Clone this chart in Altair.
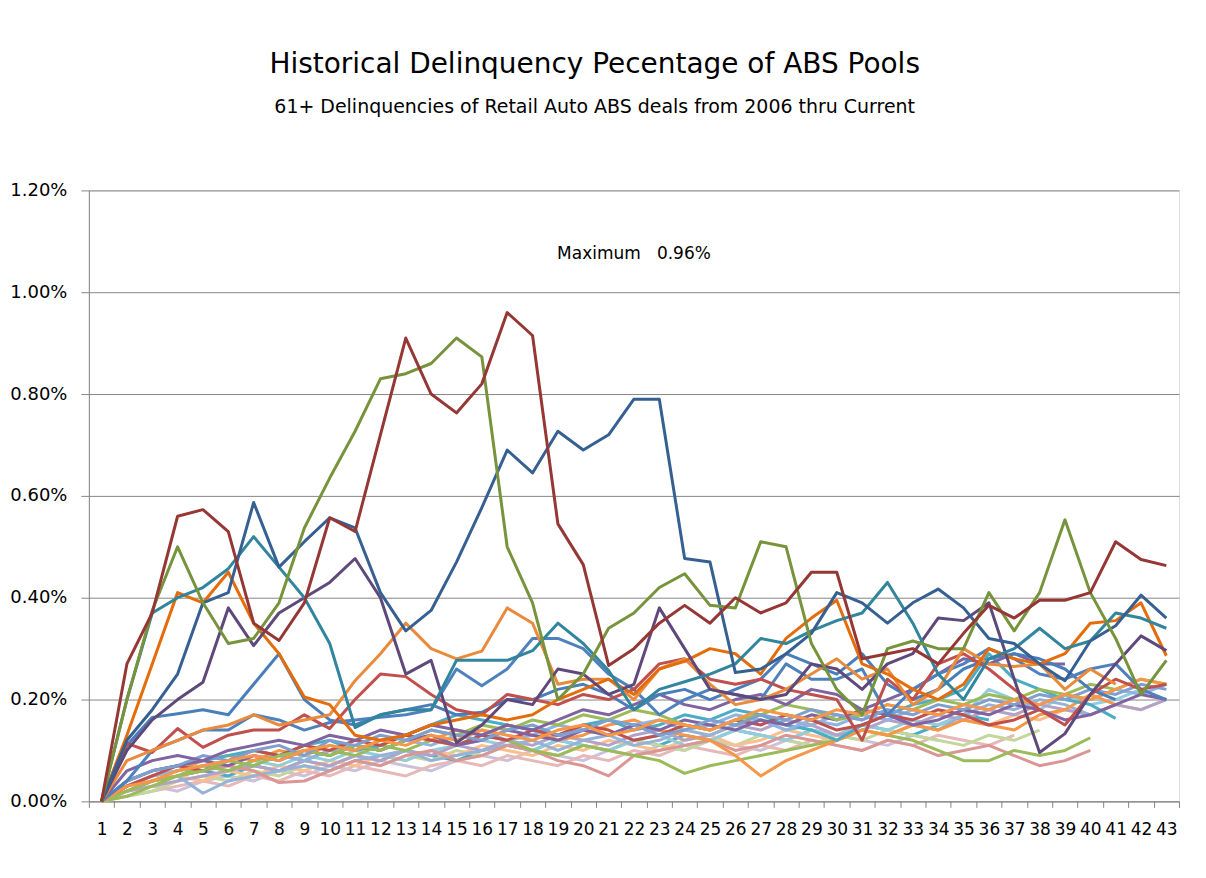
import altair as alt
import pandas as pd

# ---------------- data (values in percent) ----------------
periods = list(range(1, 44))

# lower bundle (lighter series, drawn first)
s_vl = [0,.02,.03,.02,.04,.05,.04,.06,.05,.07,.06,.08,.07,.06,.08,.09,.08,.10,.09,.08,.10,.09,.11,.10,.12,.11,.10,.12,.11,.13,.12,.11,.13,.12]
s_pk = [0,.01,.02,.03,.04,.03,.05,.04,.06,.05,.07,.06,.05,.07,.08,.07,.09,.08,.07,.09,.08,.10,.09,.11,.10,.09,.11,.10,.12,.11,.10,.12,.11,.13,.12,.11,.13]
s_aq2 = [0,.02,.04,.05,.06,.05,.07,.06,.08,.07,.09,.08,.10,.09,.08,.10,.11,.10,.12,.11,.10,.12,.11,.13,.12,.14,.13,.12,.14,.13,.15,.14,.13,.15,.17,.16]
s_lg2 = [0,.01,.02,.04,.05,.04,.06,.05,.07,.06,.08,.07,.09,.08,.10,.09,.11,.10,.09,.11,.10,.12,.11,.10,.12,.11,.13,.12,.11,.13,.12,.14,.13,.12,.11,.13,.12,.14]
s_lo = [0,.02,.04,.05,.04,.06,.05,.07,.06,.08,.07,.09,.08,.10,.09,.11,.10,.09,.11,.10,.12,.11,.10,.12,.13,.11,.12,.14,.13,.12,.14,.13,.15,.14,.16,.15,.17,.16,.18,.17,.19,.18,.20]
s_la = [0,.03,.05,.06,.07,.06,.08,.07,.09,.08,.10,.09,.08,.10,.11,.12,.11,.10,.12,.11,.10,.12,.13,.11,.12,.14,.13,.12,.14,.13,.15,.14,.16,.15,.17,.22,.20,.18,.21,.19,.20,.22]
s_lv = [0,.02,.03,.04,.05,.06,.07,.06,.08,.07,.09,.08,.10,.09,.11,.10,.12,.11,.13,.12,.11,.13,.14,.12,.13,.15,.14,.16,.15,.13,.14,.16,.15,.17,.16,.18,.17,.19,.18,.17,.19,.18,.20]
s_lb = [0,.03,.04,.05,.016,.04,.05,.06,.07,.06,.08,.09,.10,.08,.09,.10,.11,.12,.10,.12,.13,.11,.12,.14,.13,.15,.16,.14,.15,.17,.16,.18,.15,.14,.17,.19,.18,.20,.19,.17]
s_ma = [0,.02,.04,.05,.06,.07,.06,.037,.04,.06,.08,.07,.09,.10,.08,.09,.11,.10,.08,.07,.05,.09,.10,.11,.12,.10,.11,.13,.12,.11,.10,.12,.11,.09,.10,.11,.09,.07,.08,.10]
s_lg = [0,.01,.03,.05,.07,.06,.08,.09,.08,.10,.09,.11,.10,.12,.11,.13,.12,.10,.09,.11,.10,.09,.08,.055,.07,.08,.09,.10,.11,.12,.14,.13,.12,.10,.08,.08,.10,.09,.10,.125]
s_ol = [0,.03,.05,.06,.08,.09,.08,.10,.09,.11,.10,.12,.13,.12,.14,.13,.15,.14,.12,.13,.15,.16,.14,.13,.12,.09,.05,.08,.10,.12,.14,.13,.15,.14,.16,.15,.14,.17,.18,.21,.19]
s_aq = [0,.04,.06,.07,.08,.09,.10,.09,.11,.12,.10,.11,.13,.15,.17,.16,.15,.14,.13,.15,.16,.14,.15,.17,.16,.18,.17,.15,.14,.12,.15,.17,.19,.20,.22,.29,.24,.22,.20,.19,.163]
s_lb2 = [0,.03,.05,.06,.07,.08,.07,.09,.08,.10,.11,.10,.12,.11,.13,.14,.12,.13,.15,.14,.13,.15,.16,.14,.15,.17,.16,.14,.16,.15,.17,.16,.18,.17,.19,.18,.20,.19,.21,.20,.22,.21,.23]
s_rd2 = [0,.03,.05,.07,.06,.08,.10,.09,.11,.10,.12,.11,.13,.12,.11,.13,.12,.14,.13,.15,.14,.12,.13,.15,.14,.16,.15,.17,.16,.14,.15,.17,.16,.18,.17,.15,.16,.18]
s_pu2 = [0,.04,.06,.07,.08,.07,.09,.08,.10,.09,.11,.10,.12,.13,.11,.12,.14,.13,.12,.14,.13,.15,.14,.16,.15,.14,.16,.15,.17,.16,.18,.17,.15,.16,.18,.17,.19,.18,.16,.17,.19,.21,.20]
s_gr2 = [0,.02,.04,.05,.06,.08,.07,.09,.10,.09,.11,.10,.12,.14,.13,.15,.14,.16,.15,.17,.16,.18,.17,.15,.14,.16,.17,.19,.18,.16,.17,.19,.18,.20,.19,.21,.20,.22,.21,.23,.22,.24,.23]
s_bl3 = [0,.04,.06,.07,.09,.08,.10,.11,.09,.12,.11,.13,.12,.14,.13,.12,.14,.15,.13,.14,.16,.15,.13,.14,.16,.15,.17,.16,.18,.17,.16,.18,.17,.19,.18,.20,.19,.21,.20,.22,.21,.23,.22]
s_or3 = [0,.03,.04,.06,.07,.08,.09,.08,.10,.11,.10,.12,.11,.13,.12,.14,.13,.12,.14,.15,.13,.14,.16,.15,.14,.16,.18,.17,.16,.18,.17,.19,.18,.17,.19,.18,.20,.19,.21,.20,.22,.24,.23]

# medium series
s_p2 = [0,.06,.08,.09,.08,.10,.11,.12,.11,.13,.12,.14,.13,.15,.14,.13,.15,.14,.16,.18,.17,.19,.21,.19,.18,.20,.21,.19,.22,.21,.18,.20,.22,.25,.28,.27,.29,.27,.27]
s_b3 = [0,.11,.165,.172,.18,.17,.23,.29,.20,.16,.15,.17,.18,.19,.17,.175,.20,.20,.22,.23,.21,.18,.21,.22,.20,.22,.24,.29,.27,.25,.29,.23,.20,.22,.26,.28,.29,.28,.26,.22,.20]
s_b2 = [0,.04,.10,.12,.14,.14,.17,.16,.14,.155,.16,.165,.17,.18,.26,.227,.26,.32,.32,.30,.25,.22,.17,.20,.22,.21,.20,.27,.24,.24,.26,.17,.22,.25,.27,.30,.28,.25,.24,.26,.27,.22,.20]
s_r2 = [0,.114,.096,.143,.106,.13,.14,.14,.17,.143,.20,.25,.245,.21,.18,.17,.21,.20,.19,.21,.20,.22,.27,.28,.24,.23,.24,.22,.21,.20,.12,.24,.20,.27,.29,.26,.22,.18,.15,.21,.24,.22,.23]
s_o2 = [0,.08,.10,.12,.14,.15,.17,.15,.16,.17,.237,.29,.35,.30,.28,.295,.38,.35,.23,.24,.24,.20,.26,.28,.23,.19,.20,.22,.25,.28,.24,.26,.19,.22,.30,.27,.265,.27,.22,.26,.23]

# prominent series (drawn last)
s_o1 = [0,.13,.27,.41,.39,.45,.35,.29,.205,.19,.13,.12,.13,.15,.16,.17,.16,.17,.20,.22,.24,.21,.26,.275,.30,.29,.25,.32,.36,.395,.27,.25,.22,.20,.23,.30,.28,.27,.29,.35,.355,.39,.286]
s_p1 = [0,.10,.16,.20,.234,.38,.306,.37,.40,.43,.477,.40,.25,.277,.115,.15,.20,.19,.26,.25,.21,.23,.38,.30,.22,.21,.20,.21,.27,.26,.22,.27,.29,.36,.355,.39,.24,.096,.133,.21,.27,.325,.296]
s_t1 = [0,.20,.37,.40,.42,.457,.52,.46,.40,.31,.145,.17,.18,.18,.277,.277,.277,.296,.35,.31,.257,.18,.22,.235,.25,.27,.32,.31,.335,.355,.37,.43,.35,.25,.20,.28,.30,.34,.30,.315,.37,.36,.34]
s_b1 = [0,.12,.18,.25,.39,.41,.587,.46,.51,.557,.537,.41,.335,.375,.47,.577,.69,.645,.727,.69,.72,.79,.79,.477,.47,.253,.26,.29,.33,.41,.39,.35,.39,.417,.38,.32,.31,.27,.237,.315,.345,.405,.36]
s_g1 = [0,.20,.375,.50,.39,.31,.32,.39,.537,.635,.727,.83,.84,.86,.91,.873,.50,.39,.20,.25,.34,.37,.42,.447,.385,.38,.51,.50,.31,.22,.17,.30,.315,.30,.30,.41,.335,.41,.553,.41,.32,.21,.277]
s_r1 = [0,.27,.37,.56,.573,.53,.35,.316,.39,.557,.53,.72,.91,.80,.763,.82,.96,.915,.545,.465,.267,.30,.35,.385,.35,.40,.37,.39,.45,.45,.28,.29,.30,.27,.33,.385,.36,.395,.395,.41,.51,.475,.463]

series_values = [
    s_vl, s_pk, s_aq2, s_lg2, s_lo, s_la, s_lv, s_lb, s_ma, s_lg,
    s_ol, s_aq, s_lb2, s_rd2, s_pu2, s_gr2, s_bl3, s_or3,
    s_p2, s_b3, s_b2, s_r2, s_o2,
    s_o1, s_p1, s_t1, s_b1, s_g1, s_r1,
]
series_names = [f"s{i + 1:02d}" for i in range(len(series_values))]
series_colors = [
    "#CCC1DA", "#E6B9B8", "#4BACC6", "#C3D69B", "#FABF8F", "#92CDDC", "#B3A2C7", "#95B3D7", "#D99694", "#9BBB59",
    "#F79646", "#4BACC6", "#8EB4E3", "#C0504D", "#8064A2", "#9BBB59", "#7F9FCF", "#F79646",
    "#8064A2", "#4A7EBB", "#4F81BD", "#C0504D", "#E98A3C",
    "#E46C0A", "#5F497A", "#31859C", "#376092", "#77933C", "#953735",
]

y_ticks = [0, 0.002, 0.004, 0.006, 0.008, 0.010, 0.012]

rows = []
for name, vals in zip(series_names, series_values):
    for i, v in enumerate(vals):
        rows.append({"series": name, "period": periods[i], "pct": v / 100})
df = pd.DataFrame(rows)

max_row = df.loc[df["pct"].idxmax()]
ann = pd.DataFrame({
    "period": [22],
    "pct": [0.01075],
    "label": ["Maximum\u00a0\u00a0\u00a0" + f"{max_row['pct']:.2%}"],
})

FONT = "DejaVu Sans"
GRID = "#868686"

x_enc = alt.X(
    "period:O",
    scale=alt.Scale(type="band", domain=periods, paddingInner=0, paddingOuter=0),
    bandPosition=0.5,
    axis=alt.Axis(
        title=None, labelAngle=0, tickBand="extent", tickSize=6, tickColor=GRID,
        domainColor=GRID, labelFont=FONT, labelFontSize=17, labelColor="black",
        labelPadding=14, grid=False,
    ),
)
y_enc = alt.Y(
    "pct:Q",
    scale=alt.Scale(domain=[0, 0.012], nice=False),
    axis=alt.Axis(
        title=None, format=".2%", values=y_ticks, tickSize=8, tickColor=GRID,
        domainColor=GRID, grid=True, gridColor=GRID, gridOpacity=1,
        labelFont=FONT, labelFontSize=18, labelColor="black", labelPadding=14,
    ),
)

lines = alt.Chart(df).mark_line(strokeWidth=3, strokeJoin="round").encode(
    x=x_enc,
    y=y_enc,
    color=alt.Color("series:N", scale=alt.Scale(domain=series_names, range=series_colors), legend=None),
)

label = alt.Chart(ann).mark_text(font=FONT, fontSize=17, color="black").encode(
    x=alt.X("period:O", bandPosition=0.5),
    y="pct:Q",
    text="label:N",
)

chart = alt.layer(lines, label).properties(
    width=1092,
    height=612,
    padding={"left": 1, "top": 42, "right": 18, "bottom": 10},
    title=alt.TitleParams(
        text="Historical Delinquency Pecentage of ABS Pools",
        subtitle="61+ Delinquencies of Retail Auto ABS deals from 2006 thru Current",
        font=FONT, fontSize=28, fontWeight="normal", color="black",
        subtitleFont=FONT, subtitleFontSize=19, subtitleColor="black",
        subtitlePadding=19, anchor="middle", frame="bounds", offset=65,
    ),
).configure_view(stroke=None).configure(background="white")

chart.save("out.html", embed_options={"renderer": "svg", "actions": False})
